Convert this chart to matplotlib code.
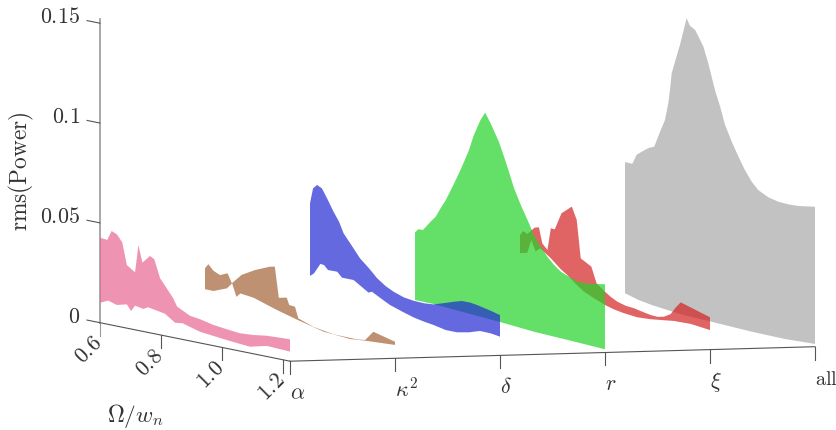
import matplotlib
matplotlib.use('Agg')
import matplotlib.pyplot as plt
from mpl_toolkits.mplot3d import proj3d
from mpl_toolkits.mplot3d.art3d import Poly3DCollection

plt.rcParams['mathtext.fontset'] = 'cm'
plt.rcParams['font.family'] = ['DejaVu Serif']

# tick labels
freq_ticks = [0.6, 0.8, 1.0, 1.2]
freq_labels = ['$0.6$', '$0.8$', '$1.0$', '$1.2$']
power_ticks = [0, 0.05, 0.1, 0.15]
power_labels = ['$0$', '$0.05$', '$0.1$', '$0.15$']
categories = [r'$\alpha$', r'$\kappa^2$', r'$\delta$', r'$r$', r'$\xi$', r'$\mathrm{all}$']

# every band: frequency + power for the upper and the lower edge (power in 1e-3)
alpha_f_top = [.6, .624, .638, .655, .673, .688, .715, .726, .739, .764, .778, .797, .840, .853, .895, .928, .972, 1.015, 1.059, 1.103, 1.147, 1.223]
alpha_top = [42.6, 42.2, 47.1, 46.0, 42.5, 31.6, 28.8, 42.8, 34.4, 38.5, 37.3, 28.4, 19.7, 15.9, 12.6, 11.9, 10.4, 9.6, 8.9, 9.4, 10.4, 11.0]
alpha_f_bot = [.6, .627, .655, .688, .702, .715, .742, .758, .813, .846, .871, .928, .972, 1.015, 1.059, 1.092, 1.147, 1.179, 1.223]
alpha_bot = [10.0, 11.9, 10.6, 11.9, 9.0, 12.1, 11.3, 12.6, 11.1, 7.6, 8.1, 5.6, 4.9, 4.2, 3.6, 3.2, 5.3, 5.1, 4.8]

kappa_f_top = [.6, .611, .627, .649, .674, .688, .720, .764, .813, .829, .842, .868, .876, .895, .906, .955, 1.021, 1.097, 1.125, 1.152, 1.223]
kappa_top = [25.8, 28.2, 25.5, 23.9, 25.6, 21.0, 26.2, 30.0, 33.2, 33.7, 18.5, 19.4, 16.0, 15.7, 10.2, 7.5, 5.8, 5.6, 6.1, 11.1, 8.3]
kappa_f_bot = [.6, .628, .672, .689, .703, .716, .759, .836, .907, .989, 1.076, 1.126, 1.223]
kappa_bot = [15.3, 15.3, 18.0, 21.0, 14.7, 16.8, 16.0, 12.2, 9.2, 6.1, 5.1, 5.8, 6.7]

delta_f_top = [.6, .610, .623, .639, .656, .677, .695, .710, .739, .764, .793, .820, .848, .874, .908, .939, .974, 1.005, 1.049, 1.072, 1.098, 1.127, 1.148, 1.193, 1.223]
delta_top = [56.9, 64.7, 66.8, 65.6, 61.1, 55.1, 50.7, 45.3, 39.5, 34.4, 30.4, 26.2, 23.1, 21.1, 19.3, 18.6, 18.4, 18.8, 21.0, 22.2, 23.4, 23.4, 22.9, 21.4, 20.2]
delta_f_bot = [.6, .613, .634, .646, .659, .689, .705, .743, .792, .803, .832, .862, .903, .939, .974, 1.005, 1.045, 1.082, 1.121, 1.157, 1.193, 1.223]
delta_bot = [20.5, 22.2, 27.6, 27.4, 25.3, 25.4, 22.9, 22.9, 18.1, 18.9, 16.5, 14.1, 12.0, 10.3, 9.2, 8.5, 7.2, 7.2, 8.4, 10.2, 10.1, 9.4]

r_f_top = [.6, .611, .626, .651, .668, .684, .701, .723, .744, .761, .777, .791, .805, .815, .830, .848, .875, .892, .908, .925, .947, .969, .990, 1.012, 1.034, 1.056, 1.078, 1.105, 1.133, 1.160, 1.187, 1.223]
r_top = [40.9, 42.8, 42.9, 47.8, 50.9, 55.6, 60.2, 67.6, 74.9, 81.3, 87.6, 94.7, 100.2, 103.9, 108.0, 103.2, 94.8, 87.8, 80.8, 73.0, 65.3, 58.5, 51.7, 46.5, 42.1, 38.7, 36.0, 34.3, 32.7, 32.7, 33.2, 34.2]
r_f_bot = [.6, .662, .772, .881, .990, 1.100, 1.223]
r_bot = [7.0, 6.9, 5.7, 4.6, 3.2, 2.5, 1.6]

xi_f_top = [.6, .610, .624, .648, .662, .673, .690, .701, .714, .736, .770, .786, .799, .834, .851, .879, .897, .919, .947, .974, 1.001, 1.029, 1.051, 1.072, 1.094, 1.111, 1.127, 1.223]
xi_top = [38.1, 40.4, 39.4, 43.3, 43.9, 36.2, 33.4, 44.6, 44.5, 53.2, 57.6, 51.4, 32.6, 29.5, 21.7, 18.3, 16.4, 14.6, 13.4, 13.0, 12.1, 11.3, 11.1, 11.8, 13.8, 17.7, 20.7, 16.2]
xi_f_bot = [.6, .624, .637, .651, .666, .701, .733, .755, .783, .810, .843, .879, .908, .941, .985, 1.029, 1.105, 1.160, 1.223]
xi_bot = [29.0, 30.0, 36.8, 31.4, 33.5, 29.6, 25.2, 22.9, 19.2, 16.2, 13.9, 11.7, 10.4, 9.5, 8.8, 9.2, 10.7, 10.9, 9.8]

all_f_top = [.6, .624, .638, .655, .677, .696, .715, .731, .742, .748, .753, .764, .780, .791, .802, .813, .830, .857, .873, .884, .895, .912, .928, .950, .972, .993, 1.015, 1.037, 1.070, 1.103, 1.136, 1.169, 1.223]
all_top = [73.2, 73.1, 78.0, 80.1, 82.6, 83.9, 92.0, 98.3, 107.1, 114.7, 122.4, 128.6, 137.4, 144.4, 151.5, 148.0, 146.5, 139.0, 131.2, 124.8, 118.4, 110.6, 102.0, 94.2, 87.4, 81.4, 76.3, 72.7, 70.1, 68.9, 68.6, 68.8, 70.1]
all_f_bot = [.6, .644, .688, .791, .881, 1.015, 1.125, 1.223]
all_bot = [7.5, 5.5, 4.3, 2.5, 2.0, 1.1, 0.8, 1.4]

bands = [
    (alpha_f_top, alpha_top, alpha_f_bot, alpha_bot, (233/255, 101/255, 147/255)),
    (kappa_f_top, kappa_top, kappa_f_bot, kappa_bot, (162/255, 98/255, 55/255)),
    (delta_f_top, delta_top, delta_f_bot, delta_bot, (34/255, 41/255, 212/255)),
    (r_f_top, r_top, r_f_bot, r_bot, (34/255, 212/255, 41/255)),
    (xi_f_top, xi_top, xi_f_bot, xi_bot, (212/255, 34/255, 34/255)),
    (all_f_top, all_top, all_f_bot, all_bot, (169/255, 169/255, 169/255)),
]

f_min, f_max = 0.6, 1.223
z_max = 0.152
fig_w, fig_h = 837, 430

fig = plt.figure(figsize=(fig_w / 100, fig_h / 100), dpi=100)
ax = fig.add_subplot(projection='3d', computed_zorder=False)
ax.set_proj_type('ortho')
ax.view_init(elev=4.29, azim=-20.26)
ax.set_xlim(f_min, f_max, view_margin=0)
ax.set_ylim(0, 5, view_margin=0)
ax.set_zlim(0, z_max, view_margin=0)
ax.set_box_aspect((548.6, 559.6, 304.3))
ax.set_axis_off()

# bands, the back one first
for i in range(5, -1, -1):
    f_top, p_top, f_bot, p_bot, col = bands[i]
    verts = [(f, i, p / 1000) for f, p in zip(f_top, p_top)]
    verts += [(f, i, p / 1000) for f, p in zip(f_bot[::-1], p_bot[::-1])]
    poly = Poly3DCollection([verts], facecolors=[col + (0.7,)], edgecolors='none', linewidths=0)
    poly.set_zorder(10 - i)
    ax.add_collection3d(poly)

# axes lines and ticks
dark = '#555555'
ax.plot([f_min, f_min], [0, 0], [0, z_max], color='#9a9a9a', lw=1.2, zorder=1)
ax.plot([f_min, f_max], [0, 0], [0, 0], color=dark, lw=0.8, zorder=1)
ax.plot([f_max, f_max], [0, 5], [0, 0], color=dark, lw=0.8, zorder=1)

for t in freq_ticks:
    ax.plot([t, t], [0, 0], [0, -0.0065], color='#9a9a9a' if t == f_min else dark, lw=0.8, zorder=1)
for t in power_ticks:
    ax.plot([f_min - 0.0426, f_min], [0, 0], [t, t], color=dark, lw=0.8, zorder=1)
for i in range(len(categories)):
    ax.plot([f_max, f_max], [i, i], [0, -0.0065], color=dark, lw=0.8, zorder=1)


# put the projected box on the wanted pixels
def to_pixels(x, y, z):
    u, v, _ = proj3d.proj_transform(x, y, z, ax.get_proj())
    return ax.transData.transform((u, v))


size = 4.0
left, bottom = 0.1, 0.1
ax.set_position([left, bottom, size * 100 / fig_w, size * 100 / fig_h])
a = to_pixels(f_min, 0, 0)
b = to_pixels(f_max, 5, 0)
size = size * (815 - 100) / (b[0] - a[0])
ax.set_position([left, bottom, size * 100 / fig_w, size * 100 / fig_h])
a = to_pixels(f_min, 0, 0)
left += (100 - a[0]) / fig_w
bottom += (fig_h - 322.7 - a[1]) / fig_h
ax.set_position([left, bottom, size * 100 / fig_w, size * 100 / fig_h])


def label(x, y, z, s, fontsize=15.8, **kw):
    p = to_pixels(x, y, z)
    fig.text(p[0] / fig_w, p[1] / fig_h, s, fontsize=fontsize, color='#333333', **kw)


for t, lab in zip(freq_ticks, freq_labels):
    label(t - 0.036, 0, -0.0150, lab, rotation=45, ha='center', va='center', rotation_mode='anchor')
for t, lab in zip(power_ticks, power_labels):
    label(f_min - 0.0656, 0, t + 0.001, lab, ha='right', va='center')
for i, lab in enumerate(categories):
    # "all" sits right at the edge of the picture
    label(f_max, i, -0.0190, lab, fontsize=14.6 if i == 5 else 15.8, ha='left', va='baseline')

fig.text(21 / fig_w, 1 - 171 / fig_h, r'$\mathrm{rms(Power)}$', fontsize=16.8, rotation=90,
         ha='center', va='center', color='#333333')
fig.text(135 / fig_w, 1 - 416 / fig_h, r'$\Omega/w_n$', fontsize=16.8, ha='center', va='center', color='#333333')

fig.savefig('out.png', dpi=100)
